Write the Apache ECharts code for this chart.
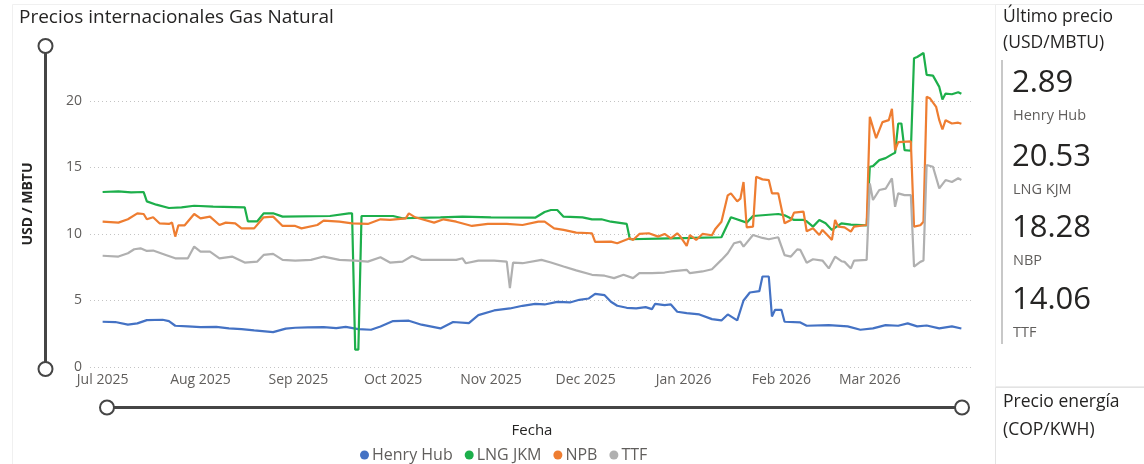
<!DOCTYPE html>
<html><head><meta charset="utf-8">
<script src="https://cdn.jsdelivr.net/npm/echarts@6/dist/echarts.min.js"></script>
<style>html,body{margin:0;padding:0;background:#fff}#c{width:1144px;height:464px}</style>
</head><body><div id="c"></div>
<script>
const seriesNames = ['Henry Hub', 'LNG JKM', 'NPB', 'TTF'];
const cardLabels = ['Henry Hub', 'LNG KJM', 'NBP', 'TTF'];
const monthNames = ['Jan','Feb','Mar','Apr','May','Jun','Jul','Aug','Sep','Oct','Nov','Dec'];
const yTickStep = 5;

const henryHub = [['2025-07-01',3.40],['2025-07-05',3.38],['2025-07-09',3.18],['2025-07-12',3.28],['2025-07-15',3.52],['2025-07-20',3.55],['2025-07-22',3.45],['2025-07-24',3.10],['2025-07-28',3.05],['2025-08-01',3.00],['2025-08-06',3.02],['2025-08-10',2.90],['2025-08-14',2.85],['2025-08-18',2.75],['2025-08-24',2.62],['2025-08-28',2.88],['2025-08-31',2.95],['2025-09-04',2.98],['2025-09-09',3.00],['2025-09-13',2.92],['2025-09-16',3.02],['2025-09-20',2.85],['2025-09-24',2.80],['2025-09-27',3.05],['2025-10-01',3.45],['2025-10-06',3.48],['2025-10-10',3.18],['2025-10-16',2.90],['2025-10-20',3.38],['2025-10-25',3.30],['2025-10-28',3.90],['2025-11-02',4.25],['2025-11-07',4.40],['2025-11-11',4.60],['2025-11-15',4.75],['2025-11-18',4.70],['2025-11-22',4.90],['2025-11-26',4.85],['2025-11-29',5.05],['2025-12-02',5.15],['2025-12-04',5.50],['2025-12-07',5.40],['2025-12-09',4.90],['2025-12-11',4.60],['2025-12-14',4.45],['2025-12-17',4.40],['2025-12-20',4.50],['2025-12-22',4.35],['2025-12-23',4.75],['2025-12-26',4.65],['2025-12-28',4.70],['2025-12-30',4.15],['2026-01-02',4.05],['2026-01-06',3.95],['2026-01-10',3.60],['2026-01-13',3.50],['2026-01-15',3.95],['2026-01-18',3.50],['2026-01-20',5.00],['2026-01-22',5.60],['2026-01-25',5.70],['2026-01-26',6.80],['2026-01-28',6.80],['2026-01-29',3.80],['2026-01-30',4.30],['2026-02-01',4.30],['2026-02-02',3.40],['2026-02-07',3.35],['2026-02-09',3.10],['2026-02-16',3.15],['2026-02-22',3.05],['2026-02-26',2.80],['2026-03-02',2.90],['2026-03-06',3.15],['2026-03-10',3.10],['2026-03-13',3.28],['2026-03-16',3.05],['2026-03-19',3.12],['2026-03-23',2.90],['2026-03-27',3.05],['2026-03-30',2.89]];

const lngJkm = [['2025-07-01',13.15],['2025-07-06',13.20],['2025-07-10',13.12],['2025-07-14',13.15],['2025-07-15',12.45],['2025-07-18',12.20],['2025-07-22',11.95],['2025-07-26',12.00],['2025-07-30',12.12],['2025-08-05',12.05],['2025-08-15',12.00],['2025-08-16',10.95],['2025-08-19',10.95],['2025-08-21',11.55],['2025-08-24',11.55],['2025-08-27',11.30],['2025-09-11',11.35],['2025-09-17',11.55],['2025-09-18',11.55],['2025-09-19',1.30],['2025-09-20',1.30],['2025-09-21',11.35],['2025-10-01',11.35],['2025-10-04',11.18],['2025-10-16',11.25],['2025-10-23',11.30],['2025-11-01',11.25],['2025-11-15',11.22],['2025-11-18',11.65],['2025-11-20',11.80],['2025-11-22',11.80],['2025-11-24',11.30],['2025-11-30',11.25],['2025-12-03',11.10],['2025-12-06',11.10],['2025-12-09',10.92],['2025-12-14',10.75],['2025-12-15',9.60],['2025-12-24',9.65],['2026-01-04',9.70],['2026-01-13',9.75],['2026-01-16',11.25],['2026-01-21',10.85],['2026-01-23',11.35],['2026-01-31',11.50],['2026-02-02',11.40],['2026-02-05',11.05],['2026-02-08',11.05],['2026-02-09',10.95],['2026-02-11',10.55],['2026-02-13',11.05],['2026-02-15',10.80],['2026-02-17',10.30],['2026-02-20',10.80],['2026-02-23',10.70],['2026-02-28',10.65],['2026-03-01',15.05],['2026-03-02',15.10],['2026-03-04',15.55],['2026-03-06',15.70],['2026-03-08',15.98],['2026-03-09',16.10],['2026-03-10',18.30],['2026-03-11',18.30],['2026-03-12',16.30],['2026-03-14',16.25],['2026-03-15',23.20],['2026-03-16',23.30],['2026-03-18',23.60],['2026-03-19',21.95],['2026-03-21',21.90],['2026-03-23',21.05],['2026-03-24',20.10],['2026-03-25',20.55],['2026-03-27',20.50],['2026-03-29',20.65],['2026-03-30',20.53]];

const npb = [['2025-07-01',10.92],['2025-07-06',10.85],['2025-07-09',11.10],['2025-07-12',11.55],['2025-07-14',11.50],['2025-07-15',11.10],['2025-07-17',11.25],['2025-07-19',10.80],['2025-07-22',10.75],['2025-07-23',10.85],['2025-07-24',9.80],['2025-07-25',10.65],['2025-07-27',10.65],['2025-07-30',11.50],['2025-08-01',11.17],['2025-08-04',11.30],['2025-08-07',10.67],['2025-08-09',10.85],['2025-08-12',10.80],['2025-08-14',10.42],['2025-08-18',10.42],['2025-08-21',11.25],['2025-08-24',11.30],['2025-08-27',10.60],['2025-08-31',10.60],['2025-09-02',10.42],['2025-09-07',10.67],['2025-09-09',11.00],['2025-09-14',10.92],['2025-09-18',10.80],['2025-09-23',10.75],['2025-09-27',11.10],['2025-09-30',11.05],['2025-10-05',11.17],['2025-10-06',11.55],['2025-10-08',11.25],['2025-10-14',10.85],['2025-10-17',11.10],['2025-10-21',10.92],['2025-10-26',10.60],['2025-10-31',10.75],['2025-11-06',10.75],['2025-11-11',10.67],['2025-11-16',10.92],['2025-11-18',10.92],['2025-11-21',10.42],['2025-11-24',10.30],['2025-11-28',10.10],['2025-12-03',10.05],['2025-12-04',9.40],['2025-12-09',9.42],['2025-12-11',9.30],['2025-12-15',9.67],['2025-12-16',9.55],['2025-12-18',10.00],['2025-12-21',10.05],['2025-12-24',9.80],['2025-12-26',10.00],['2025-12-28',9.67],['2025-12-30',10.05],['2025-12-31',9.80],['2026-01-02',9.10],['2026-01-03',9.92],['2026-01-05',9.55],['2026-01-07',10.00],['2026-01-10',9.90],['2026-01-11',10.35],['2026-01-13',10.92],['2026-01-15',12.90],['2026-01-16',13.05],['2026-01-18',12.45],['2026-01-19',12.65],['2026-01-20',13.90],['2026-01-21',10.50],['2026-01-23',10.55],['2026-01-24',14.30],['2026-01-26',14.10],['2026-01-28',14.05],['2026-01-29',13.05],['2026-01-31',13.05],['2026-02-02',10.80],['2026-02-04',11.05],['2026-02-05',11.60],['2026-02-08',11.67],['2026-02-09',10.20],['2026-02-11',10.42],['2026-02-13',9.92],['2026-02-14',10.30],['2026-02-16',9.80],['2026-02-17',9.55],['2026-02-18',11.05],['2026-02-19',10.55],['2026-02-21',10.50],['2026-02-23',10.17],['2026-02-24',10.55],['2026-02-28',10.67],['2026-03-01',18.80],['2026-03-03',17.20],['2026-03-04',17.80],['2026-03-05',18.40],['2026-03-07',18.55],['2026-03-08',19.40],['2026-03-09',16.30],['2026-03-10',16.90],['2026-03-14',16.95],['2026-03-15',10.55],['2026-03-17',10.65],['2026-03-18',10.92],['2026-03-19',20.30],['2026-03-20',20.20],['2026-03-22',19.55],['2026-03-23',18.55],['2026-03-24',17.85],['2026-03-25',18.55],['2026-03-27',18.30],['2026-03-29',18.36],['2026-03-30',18.28]];

const ttf = [['2025-07-01',8.36],['2025-07-06',8.30],['2025-07-09',8.55],['2025-07-11',8.85],['2025-07-13',8.92],['2025-07-15',8.72],['2025-07-17',8.75],['2025-07-21',8.42],['2025-07-24',8.17],['2025-07-28',8.17],['2025-07-30',9.05],['2025-08-01',8.67],['2025-08-04',8.67],['2025-08-07',8.17],['2025-08-11',8.30],['2025-08-15',7.85],['2025-08-19',7.92],['2025-08-21',8.42],['2025-08-24',8.50],['2025-08-27',8.05],['2025-08-31',8.00],['2025-09-05',8.05],['2025-09-09',8.30],['2025-09-14',8.05],['2025-09-19',8.00],['2025-09-23',7.92],['2025-09-27',8.25],['2025-09-30',7.85],['2025-10-04',7.92],['2025-10-07',8.34],['2025-10-10',8.05],['2025-10-16',8.05],['2025-10-21',8.05],['2025-10-23',8.17],['2025-10-24',7.80],['2025-10-28',8.00],['2025-11-02',8.00],['2025-11-06',7.92],['2025-11-07',5.92],['2025-11-08',7.85],['2025-11-11',7.80],['2025-11-17',8.05],['2025-11-20',7.85],['2025-11-24',7.55],['2025-11-28',7.26],['2025-12-03',6.93],['2025-12-07',6.86],['2025-12-10',6.68],['2025-12-13',6.93],['2025-12-16',6.68],['2025-12-18',7.05],['2025-12-22',7.05],['2025-12-26',7.10],['2025-12-28',7.18],['2026-01-02',7.30],['2026-01-03',7.05],['2026-01-07',7.18],['2026-01-10',7.35],['2026-01-13',8.05],['2026-01-15',8.55],['2026-01-17',9.30],['2026-01-19',9.42],['2026-01-20',9.05],['2026-01-23',9.92],['2026-01-26',9.70],['2026-01-28',9.60],['2026-01-31',9.75],['2026-02-02',8.41],['2026-02-04',8.30],['2026-02-06',8.84],['2026-02-07',8.80],['2026-02-09',7.84],['2026-02-11',8.10],['2026-02-14',8.00],['2026-02-16',7.41],['2026-02-18',8.29],['2026-02-20',7.95],['2026-02-21',7.90],['2026-02-23',7.41],['2026-02-24',8.00],['2026-02-28',8.05],['2026-03-01',13.80],['2026-03-02',12.55],['2026-03-04',13.30],['2026-03-06',13.40],['2026-03-08',14.18],['2026-03-09',12.04],['2026-03-10',13.05],['2026-03-12',12.92],['2026-03-14',12.92],['2026-03-15',7.54],['2026-03-17',7.90],['2026-03-18',8.00],['2026-03-19',15.18],['2026-03-21',15.05],['2026-03-23',13.42],['2026-03-25',14.05],['2026-03-27',13.90],['2026-03-29',14.18],['2026-03-30',14.06]];

const allSeries = [henryHub, lngJkm, npb, ttf];
const colors = ['#4472C4', '#1DAF4B', '#EE7D31', '#B0B0B0'];
const FONT = "'Segoe UI', 'Open Sans', sans-serif";
const lastDate = new Date('2026-03-30T00:00:00').getTime();

const chart = echarts.init(document.getElementById('c'));

function txt(x, y, text, size, fill) {
  return { type: 'text', silent: true, style: { x: x, y: y, text: text, fontSize: size, fontFamily: FONT, fill: fill, verticalAlign: 'middle', textVerticalAlign: 'middle' } };
}
const graphics = [
  { type: 'rect', silent: true, shape: { x: 12.5, y: 4.5, width: 983, height: 470 }, style: { fill: 'none', stroke: '#f0f0f0', lineWidth: 1 } },
  { type: 'rect', silent: true, shape: { x: 995.5, y: 4.5, width: 160, height: 382 }, style: { fill: 'none', stroke: '#ededed', lineWidth: 1 } },
  { type: 'rect', silent: true, shape: { x: 995.5, y: 387.5, width: 160, height: 100 }, style: { fill: 'none', stroke: '#e3e3e3', lineWidth: 1 } },
  { type: 'rect', silent: true, shape: { x: 1001, y: 60, width: 2, height: 284 }, style: { fill: '#c8c8c8' } },
  txt(1003, 17, 'Último precio', 17.5, '#252423'),
  txt(1003, 43, '(USD/MBTU)', 17.5, '#252423'),
  txt(1003, 402, 'Precio energía', 17.5, '#252423'),
  txt(1003, 430, '(COP/KWH)', 17.5, '#252423')
];
const cardY = [83, 157, 228, 300];
allSeries.forEach((s, i) => {
  const last = s[s.length - 1][1];
  graphics.push(txt(1012, cardY[i], last.toFixed(2), 31, '#252423'));
  graphics.push(txt(1013, cardY[i] + 33, cardLabels[i], 14.5, '#605E5C'));
});

chart.setOption({
  animation: false,
  backgroundColor: '#fff',
  textStyle: { fontFamily: FONT },
  color: colors,
  title: {
    text: 'Precios internacionales Gas Natural',
    left: 14, top: 3,
    textStyle: { fontSize: 19, fontWeight: 'normal', color: '#252423', fontFamily: FONT }
  },
  legend: {
    data: seriesNames,
    left: 355, top: 442,
    icon: 'circle', itemWidth: 9, itemHeight: 9, itemGap: 12,
    textStyle: { fontSize: 16, color: '#605E5C', padding: [0, 0, 0, -2] }
  },
  grid: { left: 90, right: 170, top: 41, bottom: 97, containLabel: false },
  xAxis: {
    type: 'time',
    min: '2025-06-27', max: '2026-04-03',
    minInterval: 28 * 86400000,
    name: 'Fecha', nameLocation: 'middle', nameGap: 56,
    nameTextStyle: { fontSize: 15, color: '#252423' },
    axisLine: { show: false }, axisTick: { show: false },
    splitLine: { show: false },
    axisLabel: {
      color: '#605E5C', fontSize: 14, margin: 6, hideOverlap: false,
      formatter: function (v) {
        const d = new Date(v);
        if (d.getDate() !== 1 || v > lastDate) return '';
        return monthNames[d.getMonth()] + ' ' + d.getFullYear();
      }
    }
  },
  yAxis: {
    type: 'value', min: 0, max: 24.5, interval: yTickStep,
    name: 'USD / MBTU', nameLocation: 'middle', nameGap: 55,
    nameTextStyle: { fontSize: 14, fontWeight: 'bold', color: '#252423' },
    axisLine: { show: false }, axisTick: { show: false },
    axisLabel: { color: '#605E5C', fontSize: 14, margin: 8, showMaxLabel: false },
    splitLine: { show: true, showMaxLine: false, lineStyle: { type: [1, 3], color: '#c4c4c4', width: 1 } }
  },
  dataZoom: [
    { type: 'slider', xAxisIndex: 0, filterMode: 'none', left: 104, right: 183, bottom: 55, height: 3,
      backgroundColor: '#454545', borderColor: 'transparent', fillerColor: '#454545',
      showDetail: false, showDataShadow: false, moveHandleSize: 0, brushSelect: false,
      handleIcon: 'circle', handleSize: 14,
      handleStyle: { color: '#fff', borderColor: '#454545', borderWidth: 2 } },
    { type: 'slider', yAxisIndex: 0, filterMode: 'none', orient: 'vertical', left: 43, width: 3, top: 45, bottom: 94,
      backgroundColor: '#454545', borderColor: 'transparent', fillerColor: '#454545',
      showDetail: false, showDataShadow: false, moveHandleSize: 0, brushSelect: false,
      handleIcon: 'circle', handleSize: 14,
      handleStyle: { color: '#fff', borderColor: '#454545', borderWidth: 2 } }
  ],
  graphic: graphics,
  series: allSeries.map((s, i) => ({
    name: seriesNames[i], type: 'line', data: s, showSymbol: false, symbol: 'none',
    lineStyle: { width: 2.2, color: colors[i] }, itemStyle: { color: colors[i] }, z: 2 + i
  }))
});
</script></body></html>
